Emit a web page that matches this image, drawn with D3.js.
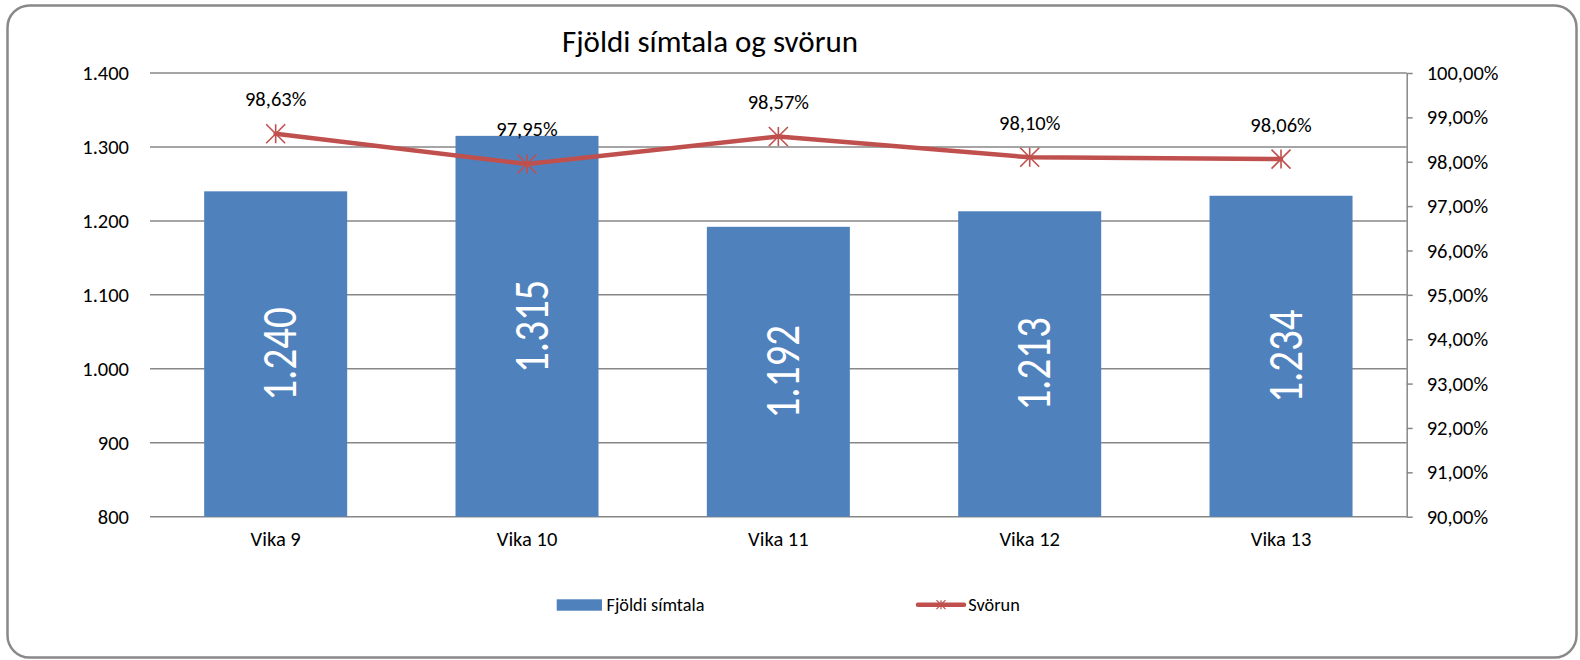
<!DOCTYPE html>
<html>
<head>
<meta charset="utf-8">
<script src="https://cdn.jsdelivr.net/npm/d3@7"></script>
<style>
  body { margin: 0; background: #fff; }
  svg text { font-family: Carlito, Calibri, Lato, sans-serif; fill: #000; }
</style>
</head>
<body>
<div id="chart"></div>
<script>
// data
var weeks = ["Vika 9", "Vika 10", "Vika 11", "Vika 12", "Vika 13"];
var calls = [1240, 1315, 1192, 1213, 1234];
var answerRate = [98.63, 97.95, 98.57, 98.10, 98.06];
var leftTicks = [800, 900, 1000, 1100, 1200, 1300, 1400];
var rightTicks = [90, 91, 92, 93, 94, 95, 96, 97, 98, 99, 100];

var chartTitle = "Fjöldi símtala og svörun";
var seriesNames = ["Fjöldi símtala", "Svörun"];

function drawChart() {
  var width = 1580;
  var height = 660;

  var margin = { top: 73, bottom: 143.3, left: 150, right: 173.3 };

  var barColor = "#4F81BD";
  var lineColor = "#C0504D";
  var gridColor = "#878787";
  var fontFamily = "Carlito, Calibri, Lato, sans-serif";
  var axisFont = 20.5;

  var is = d3.formatLocale({ decimal: ",", thousands: ".", grouping: [3], currency: ["", " kr"] });
  var fmtCount = is.format(",d");
  var fmtPct = is.format(",.2f");

  var svg = d3.select("#chart")
    .append("svg")
      .attr("width", width)
      .attr("height", height);

  // chart frame
  svg.append("rect")
    .attr("x", 7.5)
    .attr("y", 5.5)
    .attr("width", 1569)
    .attr("height", 652)
    .attr("rx", 22)
    .attr("fill", "#fff")
    .attr("stroke", "#898989")
    .attr("stroke-width", 2.5);

  var x = d3.scaleBand()
    .domain(weeks)
    .range([margin.left, width - margin.right])
    .paddingInner(0.431)
    .paddingOuter(0.2155);

  var yLeft = d3.scaleLinear()
    .domain([800, 1400])
    .range([height - margin.bottom, margin.top]);

  var yRight = d3.scaleLinear()
    .domain([90, 100])
    .range([height - margin.bottom, margin.top]);

  var bandCenter = function(w) { return x(w) + x.bandwidth() / 2; };

  // gridlines
  svg.append("g")
    .attr("class", "grid")
    .selectAll("line")
    .data(leftTicks)
    .enter().append("line")
      .attr("x1", margin.left)
      .attr("x2", width - margin.right)
      .attr("y1", function(d) { return yLeft(d); })
      .attr("y2", function(d) { return yLeft(d); })
      .attr("stroke", gridColor)
      .attr("stroke-width", 1.5);

  // left axis labels
  var leftAxis = d3.axisLeft(yLeft)
    .tickValues(leftTicks)
    .tickFormat(fmtCount)
    .tickSize(0)
    .tickPadding(21);

  var gl = svg.append("g")
    .attr("transform", "translate(" + margin.left + ",0)")
    .call(leftAxis);
  gl.select(".domain").remove();
  gl.selectAll("text")
    .attr("font-size", axisFont)
    .attr("font-family", fontFamily)
    .attr("fill", "#000");

  // right axis
  var rightAxis = d3.axisRight(yRight)
    .tickValues(rightTicks)
    .tickFormat(function(d) { return fmtPct(d) + "%"; })
    .tickSizeInner(6)
    .tickSizeOuter(0)
    .tickPadding(14);

  var gr = svg.append("g")
    .attr("transform", "translate(" + (width - margin.right) + ",0)")
    .call(rightAxis);
  gr.select(".domain").attr("stroke", gridColor).attr("stroke-width", 1.5);
  gr.selectAll(".tick line").attr("stroke", gridColor).attr("stroke-width", 1.5);
  gr.selectAll("text")
    .attr("font-size", axisFont)
    .attr("font-family", fontFamily)
    .attr("fill", "#000");

  // category labels
  var bottomAxis = d3.axisBottom(x)
    .tickSize(0)
    .tickPadding(15);

  var gb = svg.append("g")
    .attr("transform", "translate(0," + (height - margin.bottom) + ")")
    .call(bottomAxis);
  gb.select(".domain").remove();
  gb.selectAll("text")
    .attr("font-size", axisFont)
    .attr("font-family", fontFamily)
    .attr("fill", "#000");

  // bars
  var bars = svg.append("g").attr("class", "bars");
  bars.selectAll("rect")
    .data(calls)
    .enter().append("rect")
      .attr("x", function(d, i) { return x(weeks[i]); })
      .attr("y", function(d) { return yLeft(d); })
      .attr("width", x.bandwidth())
      .attr("height", function(d) { return yLeft(800) - yLeft(d); })
      .attr("fill", barColor);

  // bar value labels, rotated
  bars.selectAll("text")
    .data(calls)
    .enter().append("text")
      .attr("transform", function(d, i) {
        var cx = bandCenter(weeks[i]) + 20.5;
        var cy = (yLeft(d) + yLeft(800)) / 2;
        return "translate(" + cx + "," + cy + ") rotate(-90) scale(0.835,1)";
      })
      .attr("text-anchor", "middle")
      .attr("font-size", 49)
      .style("fill", "#fff")
      .text(function(d) { return fmtCount(d); });

  // line series
  var line = d3.line()
    .x(function(d, i) { return bandCenter(weeks[i]); })
    .y(function(d) { return yRight(d); });

  svg.append("path")
    .datum(answerRate)
    .attr("d", line)
    .attr("fill", "none")
    .attr("stroke", lineColor)
    .attr("stroke-width", 4.5)
    .attr("stroke-linejoin", "round")
    .attr("stroke-linecap", "round");

  function starPath(r) {
    return "M0," + (-r) + "L0," + r +
           "M" + (-r) + "," + (-r) + "L" + r + "," + r +
           "M" + (-r) + "," + r + "L" + r + "," + (-r);
  }

  svg.append("g")
    .selectAll("path")
    .data(answerRate)
    .enter().append("path")
      .attr("transform", function(d, i) {
        return "translate(" + bandCenter(weeks[i]) + "," + yRight(d) + ")";
      })
      .attr("d", starPath(9.5))
      .attr("fill", "none")
      .attr("stroke", lineColor)
      .attr("stroke-width", 1.6);

  svg.append("g")
    .selectAll("text")
    .data(answerRate)
    .enter().append("text")
      .attr("x", function(d, i) { return bandCenter(weeks[i]); })
      .attr("y", function(d) { return yRight(d) - 27.5; })
      .attr("text-anchor", "middle")
      .attr("font-size", axisFont)
      .text(function(d) { return fmtPct(d) + "%"; });

  // title
  svg.append("text")
    .attr("x", 710)
    .attr("y", 52)
    .attr("text-anchor", "middle")
    .attr("font-size", 31)
    .text(chartTitle);

  // legend
  var legend = svg.append("g").attr("class", "legend");

  legend.append("rect")
    .attr("x", 556.7)
    .attr("y", 599.3)
    .attr("width", 45.3)
    .attr("height", 11.4)
    .attr("fill", barColor);

  legend.append("text")
    .attr("x", 606.5)
    .attr("y", 611)
    .attr("font-size", 18.3)
    .text(seriesNames[0]);

  legend.append("line")
    .attr("x1", 918)
    .attr("x2", 964)
    .attr("y1", 604.7)
    .attr("y2", 604.7)
    .attr("stroke", lineColor)
    .attr("stroke-width", 4.5)
    .attr("stroke-linecap", "round");

  legend.append("path")
    .attr("transform", "translate(941,604.7)")
    .attr("d", starPath(4.5))
    .attr("fill", "none")
    .attr("stroke", lineColor)
    .attr("stroke-width", 1.2);

  legend.append("text")
    .attr("x", 968.3)
    .attr("y", 611)
    .attr("font-size", 18.3)
    .text(seriesNames[1]);
}

drawChart();
</script>
</body>
</html>
